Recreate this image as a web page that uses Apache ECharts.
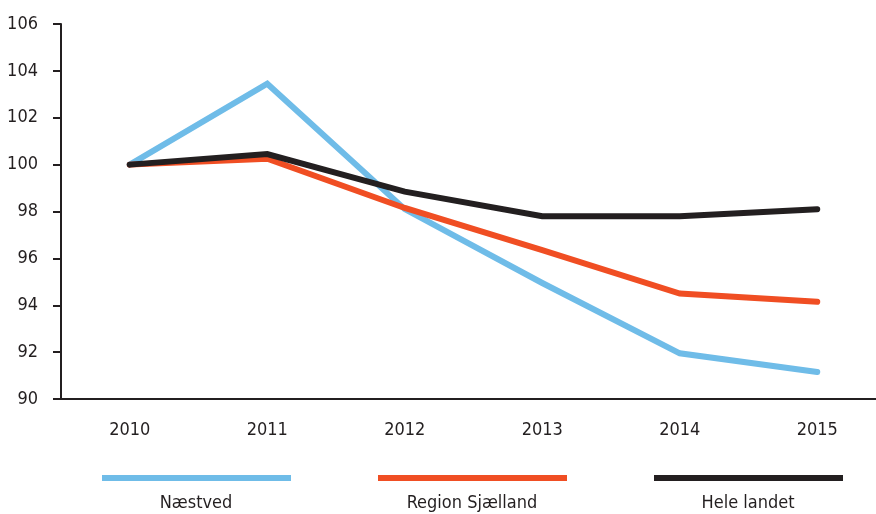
<!DOCTYPE html>
<html>
<head>
<meta charset="utf-8">
<script src="https://cdn.jsdelivr.net/npm/echarts@6/dist/echarts.min.js"></script>
<style>
  html, body { margin: 0; padding: 0; background: #fff; overflow: hidden; }
  #main { width: 886px; height: 514px; }
</style>
</head>
<body>
<div id="main"></div>
<script>
// data
const years = ['2010', '2011', '2012', '2013', '2014', '2015'];
const naestved = [100, 103.45, 98.1, 94.95, 91.95, 91.15];
const regionSjaelland = [100, 100.25, 98.15, 96.35, 94.5, 94.15];
const heleLandet = [100, 100.45, 98.85, 97.8, 97.8, 98.1];
const seriesNames = ['Næstved', 'Region Sjælland', 'Hele landet'];
const colors = ['#6fbce8', '#f04e23', '#231f20'];

const font = '"DejaVu Sans"';
const textColor = '#231f20';

const chart = echarts.init(document.getElementById('main'));

const option = {
  animation: false,
  color: colors,
  textStyle: { fontFamily: font },
  grid: { left: 61, right: 0, top: 24, bottom: 115, containLabel: false },
  legend: {
    bottom: 33,
    left: 102,
    padding: 0,
    icon: 'rect',
    itemWidth: 189,
    itemHeight: 6,
    itemGap: 87,
    formatter: () => '',
    data: seriesNames
  },
  // legend names sit centred under each legend bar, as in the reference
  graphic: seriesNames.map((name, i) => ({
    type: 'text',
    x: [196, 472, 748][i],
    y: 494,
    style: {
      text: name,
      fill: textColor,
      font: 'condensed 18px ' + font,
      textAlign: 'center'
    }
  })),
  xAxis: {
    type: 'category',
    data: years,
    boundaryGap: true,
    axisLine: { lineStyle: { color: textColor, width: 2 } },
    axisTick: { show: false },
    axisLabel: { color: textColor, fontSize: 18, fontWeight: 'condensed', fontFamily: font, margin: 22 }
  },
  yAxis: {
    type: 'value',
    min: 90,
    max: 106,
    interval: 2,
    splitLine: { show: false },
    axisLine: { show: true, lineStyle: { color: textColor, width: 2 } },
    axisTick: { show: true, length: 8, lineStyle: { color: textColor, width: 2 } },
    axisLabel: { color: textColor, fontSize: 18, fontWeight: 'condensed', fontFamily: font, margin: 23 }
  },
  series: [
    { name: seriesNames[0], type: 'line', data: naestved },
    { name: seriesNames[1], type: 'line', data: regionSjaelland },
    { name: seriesNames[2], type: 'line', data: heleLandet }
  ].map(s => Object.assign(s, {
    symbol: 'none',
    lineStyle: { width: 6, cap: 'round', join: 'miter' }
  }))
};

chart.setOption(option);
</script>
</body>
</html>
